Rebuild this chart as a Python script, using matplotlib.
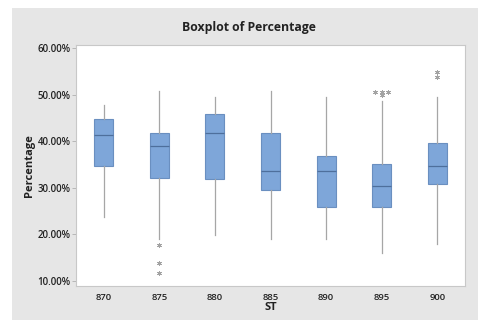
import matplotlib.pyplot as plt
from matplotlib.patches import Rectangle
from matplotlib.ticker import FuncFormatter

st = ["870", "875", "880", "885", "890", "895", "900"]
whislo = [23.8, 19.0, 19.9, 18.9, 18.9, 15.9, 17.9]
q1 = [34.7, 32.2, 31.8, 29.5, 25.8, 25.8, 30.9]
med = [41.3, 38.9, 41.8, 33.7, 33.7, 30.4, 34.7]
q3 = [44.9, 41.8, 45.8, 41.8, 36.8, 35.2, 39.7]
whishi = [47.7, 50.8, 49.6, 50.8, 49.6, 48.6, 49.6]
outliers = [[], [17.7, 13.8, 11.8], [], [], [], [50.7, 50.7, 50.7, 49.9], [54.8, 53.9]]

plt.rcParams["font.family"] = ["Open Sans", "DejaVu Sans"]

fig = plt.figure(figsize=(4.78, 3.22), dpi=100)
fig.patch.set_facecolor("white")
# grey panel behind the plot
fig.patches.append(Rectangle((12 / 478, 0.005), 1 - 12 / 478, 1 - 8 / 322 - 0.005,
                             transform=fig.transFigure, facecolor="#e6e6e6",
                             edgecolor="none", zorder=-5))

ax = fig.add_axes([76 / 478, 1 - 286 / 322, (465 - 76) / 478, (286 - 45) / 322])
ax.set_facecolor("white")

stats = []
for i in range(len(st)):
    stats.append(dict(whislo=whislo[i], q1=q1[i], med=med[i], q3=q3[i],
                      whishi=whishi[i], fliers=[]))

ax.bxp(stats, positions=range(len(st)), widths=0.34, patch_artist=True,
       showcaps=False, showfliers=False,
       boxprops=dict(facecolor="#7ea6d9", edgecolor="#6a8fc0", linewidth=0.8),
       medianprops=dict(color="#4e6f9c", linewidth=0.9),
       whiskerprops=dict(color="#a6a6a6", linewidth=0.9))

# outliers: repeated values are spread sideways
for i, vals in enumerate(outliers):
    for v in set(vals):
        n = vals.count(v)
        offs = [(k - (n - 1) / 2) * 0.12 for k in range(n)]
        for o in offs:
            ax.plot(i + o, v, marker=(6, 2, 0), markersize=3.5, color="#a3a3a3",
                    markeredgewidth=0.6, linestyle="none")

ax.set_xlim(-0.5, 6.5)
ax.set_ylim(8.9, 60.7)
ax.set_yticks([10, 20, 30, 40, 50, 60])
ax.yaxis.set_major_formatter(FuncFormatter(lambda v, p: f"{v:.2f}%"))
ax.set_xticks(range(len(st)))
ax.set_xticklabels(st)

for s in ax.spines.values():
    s.set_color("#c8c8c8")
    s.set_linewidth(0.8)
ax.tick_params(axis="y", length=3, width=0.6, color="#b0b0b0", labelsize=7,
               labelcolor="#222222", pad=1)
ax.tick_params(axis="x", length=0, labelsize=6.8, labelcolor="#222222", pad=5)
for lab in ax.get_xticklabels() + ax.get_yticklabels():
    lab.set_fontweight("semibold")

ax.set_xlabel("ST", fontsize=8, fontweight="bold", color="#222222", labelpad=0)
ax.set_ylabel("Percentage", fontsize=8, fontweight="bold", color="#222222", labelpad=2)
fig.text(249 / 478, 1 - 28 / 322, "Boxplot of Percentage", ha="center",
         va="center", fontsize=8.8, fontweight="bold", color="#222222")

fig.savefig("out.png", dpi=100)
